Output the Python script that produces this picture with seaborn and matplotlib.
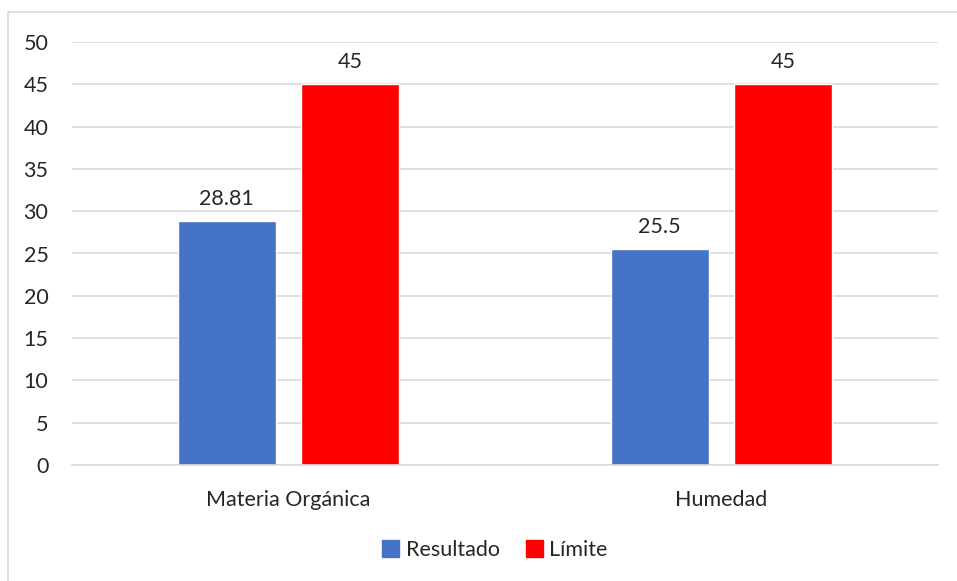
import matplotlib
matplotlib.use("Agg")
import matplotlib.pyplot as plt
import seaborn as sns
import pandas as pd
from matplotlib.lines import Line2D

categories = ["Materia Orgánica", "Humedad"]
resultado = [28.81, 25.5]
limite = [45, 45]
series_names = ["Resultado", "Límite"]
y_ticks = list(range(0, 55, 5))

df = pd.DataFrame({
    "categoria": categories * 2,
    "valor": resultado + limite,
    "serie": [series_names[0]] * 2 + [series_names[1]] * 2,
})

sns.set_style("white")
plt.rcParams["font.family"] = ["Lato", "DejaVu Sans"]
fs = 15.5

fig = plt.figure(figsize=(9.57, 5.81), dpi=100)
ax = fig.add_axes([72 / 957, 1 - 465 / 581, 866 / 957, 423 / 581])

palette = {"Resultado": "#4472C4", "Límite": "#FF0000"}
sns.barplot(data=df, x="categoria", y="valor", hue="serie", palette=palette,
            width=0.57, gap=0.21, ax=ax, legend=False, saturation=1)

for cont in ax.containers:
    labels = [f"{v:g}" for v in cont.datavalues]
    ax.bar_label(cont, labels=labels, padding=9, fontsize=fs)

ax.set_ylim(0, 50)
ax.set_xlim(-0.5, 1.5)
ax.set_yticks(y_ticks)
ax.yaxis.grid(True, color="#D9D9D9", linewidth=1.2)
ax.set_axisbelow(True)
ax.set_xlabel("")
ax.set_ylabel("")
ax.tick_params(axis="both", labelsize=fs, length=0)
ax.tick_params(axis="y", pad=17)
ax.tick_params(axis="x", pad=18)
for side in ["top", "right", "left"]:
    ax.spines[side].set_visible(False)
ax.spines["bottom"].set_color("#D9D9D9")
ax.spines["bottom"].set_linewidth(1.2)

handles = [plt.Rectangle((0, 0), 1, 1, color=palette[s]) for s in series_names]
fig.legend(handles, series_names, loc="center", bbox_to_anchor=(495 / 957, 1 - 550 / 581),
           ncol=2, frameon=False, fontsize=fs, handlelength=0.8, handleheight=0.8,
           handletextpad=0.3, columnspacing=1.2)

# chart border (top and left edges visible)
fig.add_artist(Line2D([8 / 957, 1], [1 - 12 / 581] * 2, transform=fig.transFigure,
                      color="#D9D9D9", linewidth=1.2))
fig.add_artist(Line2D([8 / 957] * 2, [0, 1 - 12 / 581], transform=fig.transFigure,
                      color="#D9D9D9", linewidth=1.2))

fig.savefig("out.png", dpi=100)
